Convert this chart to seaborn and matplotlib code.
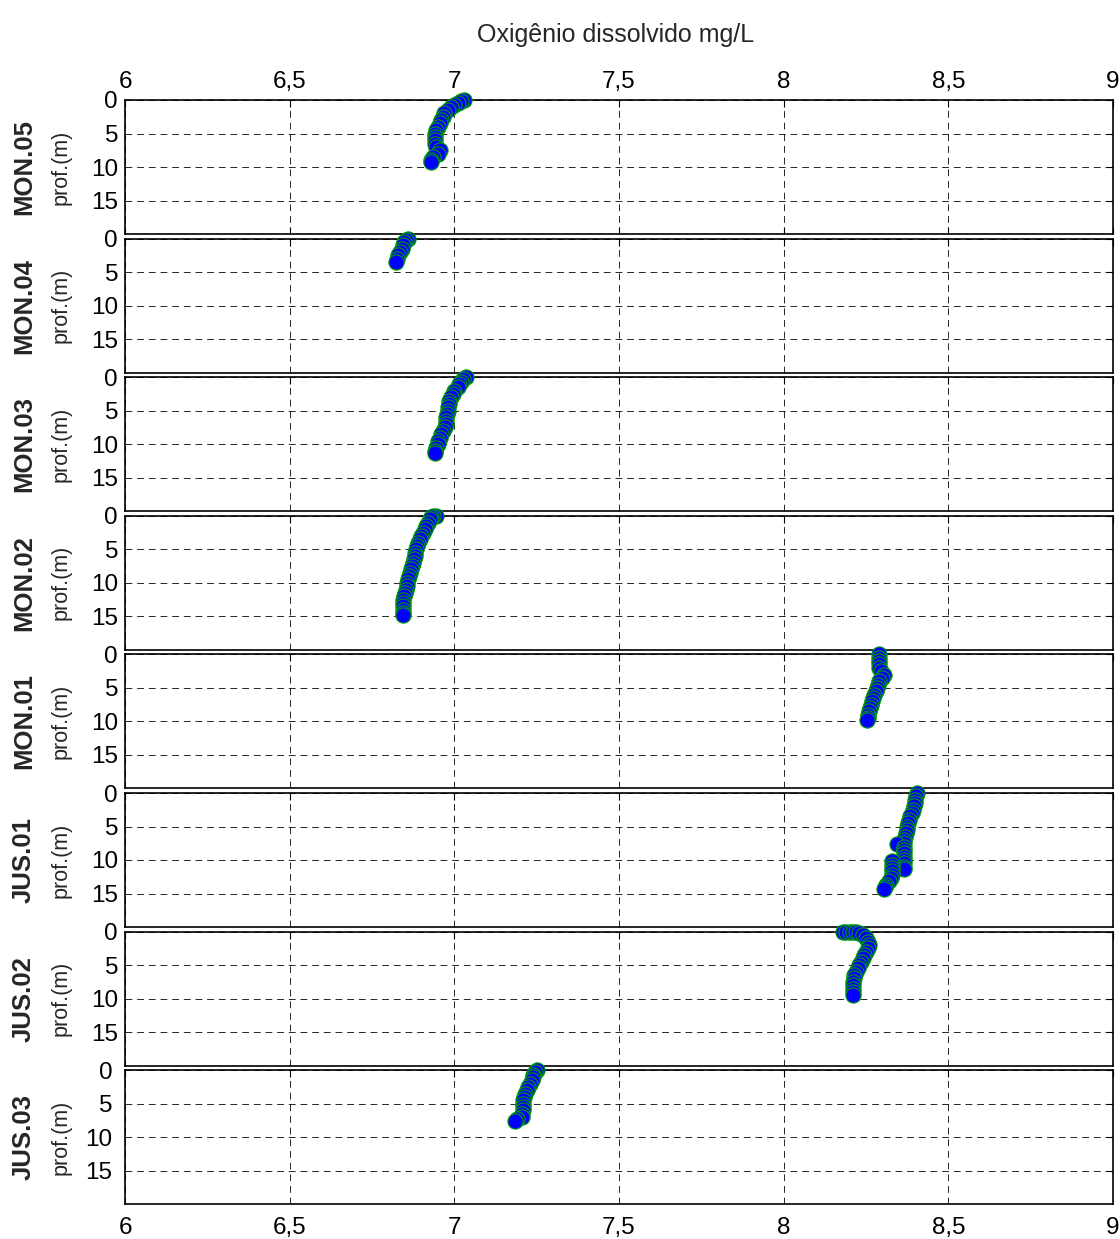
import numpy as np
import pandas as pd
import matplotlib
matplotlib.use("Agg")
import matplotlib.pyplot as plt
import seaborn as sns

# Dissolved-oxygen profiles (depth in m, DO in mg/L) per sampling station
stations = ["MON.05", "MON.04", "MON.03", "MON.02", "MON.01", "JUS.01", "JUS.02", "JUS.03"]

mon05_depth = [0, 0.2, 0.4, 0.7, 1, 1.5, 2, 2.5, 3, 3.5, 4, 4.5, 5, 5.5, 6, 6.5, 7, 7.5, 8, 8.5, 9, 9.2]
mon05_do = [7.03, 7.02, 7.01, 7.0, 6.99, 6.98, 6.97, 6.965, 6.96, 6.955, 6.95, 6.945, 6.94, 6.94, 6.94,
            6.94, 6.945, 6.955, 6.95, 6.935, 6.93, 6.93]

mon04_depth = [0, 0.2, 0.5, 1, 1.5, 2, 2.5, 3, 3.5]
mon04_do = [6.858, 6.852, 6.848, 6.845, 6.84, 6.835, 6.83, 6.826, 6.823]

mon03_depth = [0, 0.3, 0.7, 1, 1.5, 2, 2.5, 3, 3.5, 4, 4.5, 5, 5.5, 6, 6.5, 7, 7.5, 8, 8.5, 9,
               9.5, 10, 10.5, 11, 11.3]
mon03_do = [7.035, 7.025, 7.02, 7.015, 7.01, 7.0, 6.995, 6.99, 6.985, 6.983, 6.982, 6.98, 6.978,
            6.976, 6.975, 6.975, 6.972, 6.965, 6.96, 6.955, 6.95, 6.95, 6.945, 6.94, 6.94]

mon02_depth = [0, 0, 0.2, 0.5, 1, 1.5, 2, 2.5, 3, 3.5, 4, 4.5, 5, 5.5, 6, 6.5, 7, 7.5, 8, 8.5, 9,
               9.5, 10, 10.5, 11, 11.5, 12, 12.5, 13, 13.5, 14, 14.5, 14.8]
mon02_do = [6.945, 6.935, 6.93, 6.925, 6.92, 6.915, 6.91, 6.905, 6.9, 6.895, 6.89, 6.888, 6.885,
            6.882, 6.88, 6.877, 6.873, 6.87, 6.867, 6.864, 6.862, 6.86, 6.857, 6.855, 6.852, 6.85,
            6.847, 6.845, 6.845, 6.844, 6.843, 6.843, 6.843]

mon01_depth = [0, 0.5, 1, 1.5, 2, 2.5, 3, 3.5, 4, 4.5, 5, 5.5, 6, 6.5, 7, 7.5, 8, 8.5, 9, 9.5, 9.8]
mon01_do = [8.29, 8.29, 8.29, 8.29, 8.29, 8.297, 8.305, 8.298, 8.29, 8.285, 8.283, 8.28, 8.275,
            8.27, 8.268, 8.265, 8.262, 8.26, 8.257, 8.255, 8.253]

jus01_depth = [0, 0.5, 1, 1.5, 2, 2.5, 3, 3.5, 4, 4.5, 5, 5.5, 6, 6.5, 7, 7.5, 7.6, 8, 8.5, 9,
               9.5, 10, 10.5, 11, 11.3, 10.2, 10.7, 11.2, 11.7, 12.2, 12.7, 13.2, 13.7, 14.1, 14.4]
jus01_do = [8.405, 8.402, 8.4, 8.398, 8.395, 8.392, 8.39, 8.385, 8.38, 8.378, 8.375, 8.373, 8.37,
            8.368, 8.366, 8.366, 8.345, 8.366, 8.365, 8.365, 8.365, 8.365, 8.365, 8.365, 8.365,
            8.33, 8.33, 8.33, 8.33, 8.328, 8.325, 8.32, 8.312, 8.307, 8.305]

jus02_depth = [0, 0, 0, 0, 0, 0.2, 0.5, 1, 1.5, 2, 2.5, 3, 3.5, 4, 4.5, 5, 5.5, 6, 6.5, 7, 7.5, 8,
               8.5, 9, 9.4]
jus02_do = [8.18, 8.19, 8.2, 8.21, 8.22, 8.23, 8.24, 8.25, 8.255, 8.258, 8.255, 8.25, 8.245, 8.24,
            8.235, 8.23, 8.225, 8.22, 8.215, 8.213, 8.212, 8.21, 8.21, 8.21, 8.21]

jus03_depth = [0, 0.3, 0.7, 1, 1.5, 2, 2.5, 3, 3.5, 4, 4.5, 5, 5.5, 6, 6.5, 7, 7.3, 7.6]
jus03_do = [7.25, 7.245, 7.24, 7.238, 7.235, 7.23, 7.225, 7.22, 7.215, 7.213, 7.21, 7.21, 7.208,
            7.207, 7.205, 7.205, 7.19, 7.185]

profiles = {
    "MON.05": (mon05_depth, mon05_do),
    "MON.04": (mon04_depth, mon04_do),
    "MON.03": (mon03_depth, mon03_do),
    "MON.02": (mon02_depth, mon02_do),
    "MON.01": (mon01_depth, mon01_do),
    "JUS.01": (jus01_depth, jus01_do),
    "JUS.02": (jus02_depth, jus02_do),
    "JUS.03": (jus03_depth, jus03_do),
}

x_ticks = [6, 6.5, 7, 7.5, 8, 8.5, 9]
x_tick_labels = ["6", "6,5", "7", "7,5", "8", "8,5", "9"]
y_ticks = [0, 5, 10, 15]
y_tick_labels = ["0", "5", "10", "15"]

sns.set_style("white")
plt.rcParams["font.family"] = ["Liberation Sans", "DejaVu Sans"]

W, H = 1120, 1239
fig = plt.figure(figsize=(W / 100, H / 100), dpi=100)

left_px, right_px = 125, 1113
top0_px, step_px, height_px = 100, 138.6, 134
tick_fs = 17.5

for i, name in enumerate(stations):
    top_px = top0_px + i * step_px
    ax = fig.add_axes([left_px / W, 1 - (top_px + height_px) / H,
                       (right_px - left_px) / W, height_px / H])
    depth, do = profiles[name]
    df = pd.DataFrame({"do": do, "depth": depth})
    sns.scatterplot(data=df, x="do", y="depth", ax=ax, s=120, color="#0000ff",
                    edgecolor="#00a000", linewidth=0.8, clip_on=False, zorder=5, legend=False)

    ax.set_xlim(6, 9)
    ax.set_ylim(20, 0)
    ax.set_xticks(x_ticks)
    ax.set_yticks(y_ticks)
    ax.set_yticklabels(y_tick_labels, fontsize=tick_fs)
    ax.set_xlabel("")
    ax.set_ylabel("")
    ax.grid(True, color="black", linestyle=(0, (7, 5)), linewidth=0.7, alpha=0.85)
    ax.tick_params(direction="in", length=5, width=0.8, top=True, right=True,
                   labelsize=tick_fs, colors="black", pad=5)
    for sp in ax.spines.values():
        sp.set_color("black")
        sp.set_linewidth(1.2)

    if i == 0:
        ax.xaxis.set_ticks_position("both")
        ax.tick_params(labeltop=True, labelbottom=False)
        ax.set_xticklabels(x_tick_labels, fontsize=tick_fs)
    elif i == len(stations) - 1:
        ax.set_xticklabels(x_tick_labels, fontsize=tick_fs)
        ax.tick_params(labelbottom=True, labeltop=False, pad=9)
    else:
        ax.tick_params(labelbottom=False, labeltop=False)

    yc = 1 - (top_px + height_px / 2) / H
    fig.text(24 / W, yc, name, rotation=90, ha="center", va="center",
             fontsize=18.5, fontweight="bold")
    fig.text(61 / W, yc, "prof.(m)", rotation=90, ha="center", va="center", fontsize=15.5)

fig.text(616 / W, 1 - 35 / H, "Oxigênio dissolvido mg/L", ha="center", va="center", fontsize=18)

fig.savefig("out.png", dpi=100, facecolor="white")
